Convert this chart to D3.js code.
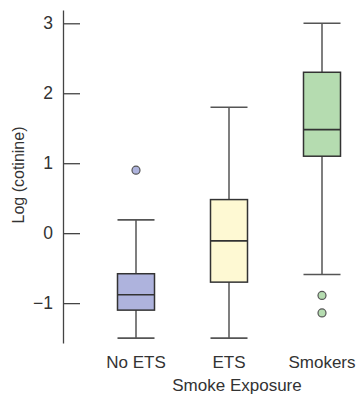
<!DOCTYPE html>
<html>
<head>
<meta charset="utf-8">
<script src="https://cdn.jsdelivr.net/npm/d3@7"></script>
<style>
  body { margin: 0; background: #fff; }
  text { font-family: "Liberation Sans", Arial, sans-serif; fill: #333; }
</style>
</head>
<body>
<svg id="chart" width="361" height="403"></svg>
<script>
// values
const categories = ["No ETS", "ETS", "Smokers"];
const whiskerLow = [-1.5, -1.5, -0.59];
const q1 = [-1.1, -0.7, 1.1];
const median = [-0.88, -0.11, 1.48];
const q3 = [-0.58, 0.48, 2.3];
const whiskerHigh = [0.19, 1.8, 3.0];
const outliers = [[0.9], [], [-0.89, -1.14]];
const yTicks = [-1, 0, 1, 2, 3];
const fills = ["#aeb3dd", "#fef9d3", "#b5dcb0"];

const svg = d3.select("#chart");
const boxW = 37;

const y = d3.scaleLinear().domain([-1.57, 3.19]).range([343, 10]);
const x = d3.scalePoint().domain(categories).range([136, 322]);

// y axis, ticks pointing into the plot
const yAxis = svg.append("g")
    .attr("transform", "translate(63,0)")
    .call(d3.axisLeft(y).tickValues(yTicks).tickFormat(d3.format("d"))
      .tickSizeInner(-17).tickSizeOuter(0).tickPadding(10));
yAxis.selectAll("path, line").attr("stroke", "#444").attr("stroke-width", 1.3);
yAxis.selectAll("text")
    .attr("font-size", 17.5)
    .attr("font-family", "Liberation Sans, Arial, sans-serif")
    .attr("fill", "#333");

svg.append("text")
    .attr("transform", "translate(24,175) rotate(-90)")
    .attr("text-anchor", "middle")
    .attr("font-size", 16)
    .text("Log (cotinine)");

const rows = categories.map((c, i) => ({
  c, lo: whiskerLow[i], q1: q1[i], med: median[i], q3: q3[i], hi: whiskerHigh[i],
  out: outliers[i], fill: fills[i]
}));

const g = svg.selectAll("g.box").data(rows).enter()
  .append("g")
    .attr("class", "box");

// whisker stems
g.append("line")
    .attr("x1", d => x(d.c)).attr("x2", d => x(d.c))
    .attr("y1", d => y(d.hi)).attr("y2", d => y(d.lo))
    .attr("stroke", "#555").attr("stroke-width", 1.5);

// caps
[d => d.hi, d => d.lo].forEach(f => {
  g.append("line")
      .attr("x1", d => x(d.c) - boxW / 2).attr("x2", d => x(d.c) + boxW / 2)
      .attr("y1", d => y(f(d))).attr("y2", d => y(f(d)))
      .attr("stroke", "#555").attr("stroke-width", 1.6);
});

// boxes
g.append("rect")
    .attr("x", d => x(d.c) - boxW / 2)
    .attr("y", d => y(d.q3))
    .attr("width", boxW)
    .attr("height", d => y(d.q1) - y(d.q3))
    .attr("fill", d => d.fill)
    .attr("stroke", "#333").attr("stroke-width", 1.5);

// medians
g.append("line")
    .attr("x1", d => x(d.c) - boxW / 2).attr("x2", d => x(d.c) + boxW / 2)
    .attr("y1", d => y(d.med)).attr("y2", d => y(d.med))
    .attr("stroke", "#333").attr("stroke-width", 1.6);

// outliers
g.selectAll("circle").data(d => d.out.map(v => ({ v, c: d.c, fill: d.fill }))).enter()
  .append("circle")
    .attr("cx", d => x(d.c))
    .attr("cy", d => y(d.v))
    .attr("r", 4)
    .attr("fill", d => d.fill)
    .attr("stroke", "#555").attr("stroke-width", 1.2);

// category labels
svg.selectAll("text.cat").data(categories).enter()
  .append("text")
    .attr("class", "cat")
    .attr("x", d => x(d))
    .attr("y", 368)
    .attr("text-anchor", "middle")
    .attr("font-size", 17)
    .text(d => d);

svg.append("text")
    .attr("x", 237)
    .attr("y", 391)
    .attr("text-anchor", "middle")
    .attr("font-size", 17)
    .text("Smoke Exposure");
</script>
</body>
</html>
